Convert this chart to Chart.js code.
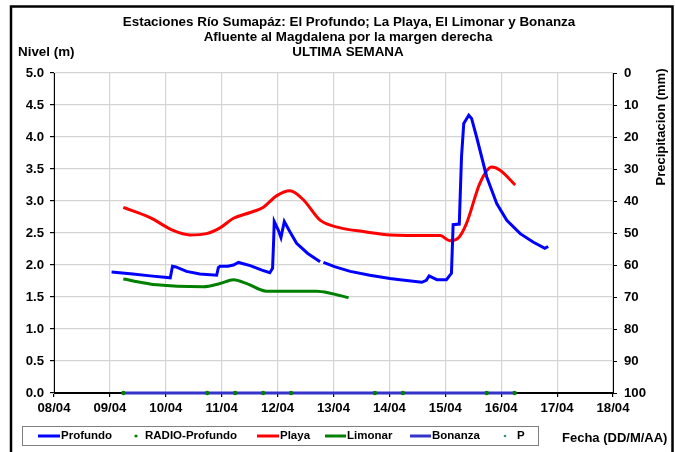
<!DOCTYPE html>
<html lang="es">
<head>
    <meta charset="UTF-8">
    <title>Estaciones Río Sumapáz</title>
    <script src="https://cdn.jsdelivr.net/npm/chart.js"></script>
    <style>
        body { margin: 0; background: #fff; }
        #wrap { position: relative; width: 675px; height: 452px; }
    </style>
</head>
<body>
    <div id="wrap">
        <canvas id="chart" width="675" height="452"></canvas>
    </div>

    <script>
        // dias desde 08/04
        const dateLabels = ['08/04', '09/04', '10/04', '11/04', '12/04', '13/04', '14/04', '15/04', '16/04', '17/04', '18/04'];

        const profundoDays = [1.03, 1.41, 1.72, 2.08, 2.12, 2.18, 2.37, 2.61, 2.91, 2.94, 2.97, 3.11, 3.21, 3.30, 3.51, 3.72, 3.86, 3.91, 3.93, 3.94, 4.01, 4.06, 4.12, 4.22, 4.34, 4.54, 4.76, 4.79, 4.82, 5.03, 5.30, 5.65, 6.01, 6.19, 6.58, 6.66, 6.71, 6.85, 7.02, 7.11, 7.14, 7.25, 7.29, 7.33, 7.42, 7.47, 7.56, 7.74, 7.92, 8.10, 8.34, 8.57, 8.78, 8.84];
        const profundoLevel = [1.89, 1.86, 1.83, 1.80, 1.98, 1.97, 1.90, 1.86, 1.84, 1.96, 1.98, 1.98, 2.00, 2.04, 1.99, 1.92, 1.88, 1.95, 2.40, 2.68, 2.55, 2.43, 2.68, 2.52, 2.34, 2.18, 2.05, null, 2.04, 1.97, 1.90, 1.84, 1.79, 1.77, 1.73, 1.76, 1.83, 1.77, 1.77, 1.87, 2.63, 2.64, 3.69, 4.21, 4.34, 4.29, 4.00, 3.38, 2.96, 2.70, 2.49, 2.36, 2.26, 2.29];

        const playaDays = [1.24, 1.72, 2.13, 2.43, 2.73, 2.97, 3.21, 3.51, 3.74, 3.98, 4.22, 4.46, 4.76, 5.12, 5.56, 6.01, 6.73, 6.91, 7.08, 7.23, 7.38, 7.62, 7.83, 7.98, 8.25];
        const playaLevel = [2.90, 2.74, 2.54, 2.47, 2.49, 2.58, 2.73, 2.82, 2.90, 3.08, 3.16, 3.02, 2.70, 2.58, 2.52, 2.47, 2.46, 2.46, 2.38, 2.42, 2.65, 3.28, 3.53, 3.48, 3.25];

        const limonarDays = [1.24, 1.84, 2.67, 2.97, 3.21, 3.45, 3.80, 4.22, 4.70, 4.94, 5.27];
        const limonarLevel = [1.78, 1.69, 1.66, 1.71, 1.77, 1.71, 1.59, 1.59, 1.59, 1.56, 1.49];

        const bonanzaDays = [1.24, 8.24];
        const bonanzaLevel = [0, 0];

        const radioDays = [1.24, 2.74, 3.24, 3.74, 4.24, 5.74, 6.24, 7.74, 8.24];
        const radioLevel = [0, 0, 0, 0, 0, 0, 0, 0, 0];

        const FONT = 'Liberation Sans, Arial, sans-serif';
        const NOCLIP = { left: 6, right: 6, top: 6, bottom: 6 };

        function pts(xs, ys) {
            return xs.map((x, i) => ({ x: x, y: ys[i] }));
        }

        // textos, leyenda y marco
        const decor = {
            id: 'decor',
            afterDraw(chart) {
                const ctx = chart.ctx;
                ctx.save();
                ctx.fillStyle = '#000';
                ctx.font = 'bold 13.4px ' + FONT;
                ctx.textBaseline = 'middle';
                ctx.textAlign = 'center';
                ctx.fillText('Estaciones Río Sumapáz: El Profundo; La Playa, El Limonar y Bonanza', 349, 22);
                ctx.fillText('Afluente al Magdalena por la margen derecha', 348, 37);
                ctx.fillText('ULTIMA SEMANA', 348, 52);

                ctx.textAlign = 'left';
                ctx.fillText('Nivel (m)', 18, 52);
                ctx.font = 'bold 13px ' + FONT;
                ctx.fillText('Fecha (DD/M/AA)', 562, 438);

                ctx.save();
                ctx.translate(661, 127);
                ctx.rotate(-Math.PI / 2);
                ctx.textAlign = 'center';
                ctx.fillText('Precipitacion (mm)', 0, 0);
                ctx.restore();

                // leyenda
                ctx.strokeStyle = '#808080';
                ctx.lineWidth = 1;
                ctx.strokeRect(22.5, 426.5, 516, 19);
                const ly = 436;
                ctx.font = 'bold 11.5px ' + FONT;
                const lines = [
                    ['#0000ff', 38, 60, 'Profundo'],
                    ['#ff0000', 257, 279, 'Playa'],
                    ['#008000', 325, 346, 'Limonar'],
                    ['#3333cc', 410, 431, 'Bonanza']
                ];
                lines.forEach(l => {
                    ctx.strokeStyle = l[0];
                    ctx.lineWidth = 3;
                    ctx.beginPath();
                    ctx.moveTo(l[1], ly);
                    ctx.lineTo(l[2], ly);
                    ctx.stroke();
                    ctx.fillText(l[3], l[2] + 1, ly);
                });
                ctx.fillStyle = '#008000';
                ctx.beginPath(); ctx.arc(136, ly, 1.6, 0, Math.PI * 2); ctx.fill();
                ctx.fillStyle = '#339966';
                ctx.beginPath(); ctx.arc(505, ly, 1.3, 0, Math.PI * 2); ctx.fill();
                ctx.fillStyle = '#000';
                ctx.fillText('RADIO-Profundo', 145, ly);
                ctx.fillText('P', 517, ly);

                // marco
                ctx.strokeStyle = '#000';
                ctx.lineWidth = 2.5;
                ctx.strokeRect(11, 6.5, 661.5, 460);
                ctx.restore();
            }
        };

        const tickFont = { family: FONT, size: 13.2, weight: 'bold' };

        const ctx = document.getElementById('chart').getContext('2d');
        const chart = new Chart(ctx, {
            type: 'line',
            data: {
                datasets: [
                    {
                        label: 'RADIO-Profundo',
                        data: pts(radioDays, radioLevel),
                        showLine: false,
                        pointRadius: 2.2,
                        pointBackgroundColor: '#008000',
                        pointBorderWidth: 0,
                        clip: NOCLIP,
                        yAxisID: 'y'
                    },
                    {
                        label: 'Bonanza',
                        data: pts(bonanzaDays, bonanzaLevel),
                        borderColor: '#3333cc',
                        borderWidth: 3,
                        pointRadius: 0,
                        clip: NOCLIP,
                        yAxisID: 'y'
                    },
                    {
                        label: 'Profundo',
                        data: pts(profundoDays, profundoLevel),
                        borderColor: '#0000ff',
                        borderWidth: 3,
                        pointRadius: 0,
                        tension: 0,
                        spanGaps: false,
                        yAxisID: 'y'
                    },
                    {
                        label: 'Limonar',
                        data: pts(limonarDays, limonarLevel),
                        borderColor: '#008000',
                        borderWidth: 3,
                        pointRadius: 0,
                        tension: 0.4,
                        cubicInterpolationMode: 'monotone',
                        yAxisID: 'y'
                    },
                    {
                        label: 'Playa',
                        data: pts(playaDays, playaLevel),
                        borderColor: '#ff0000',
                        borderWidth: 3,
                        pointRadius: 0,
                        tension: 0.4,
                        cubicInterpolationMode: 'monotone',
                        yAxisID: 'y'
                    }
                ]
            },
            options: {
                responsive: false,
                animation: false,
                layout: { padding: { top: 73, left: 0, right: 0, bottom: 0 } },
                plugins: {
                    legend: { display: false },
                    title: { display: false },
                    tooltip: { enabled: false }
                },
                scales: {
                    x: {
                        type: 'linear',
                        min: 0,
                        max: 10,
                        afterFit: s => { s.height = 59; },
                        afterBuildTicks: s => { s.ticks = dateLabels.map((_, i) => ({ value: i })); },
                        ticks: {
                            stepSize: 1,
                            padding: 3,
                            color: '#000',
                            font: tickFont,
                            maxRotation: 0,
                            callback: v => dateLabels[v]
                        },
                        grid: { color: '#d4d4d4', lineWidth: 1.2, tickLength: 4, tickColor: '#000' },
                        border: { color: '#000', width: 1 }
                    },
                    y: {
                        position: 'left',
                        min: 0,
                        max: 5,
                        afterFit: s => { s.width = 54; },
                        ticks: {
                            stepSize: 0.5,
                            padding: 6,
                            color: '#000',
                            font: tickFont,
                            callback: v => v.toFixed(1)
                        },
                        grid: {
                            color: ctx => ctx.tick && ctx.tick.value === 0 ? '#000' : '#d4d4d4',
                            lineWidth: 1.2,
                            tickLength: 4,
                            tickColor: '#000'
                        },
                        border: { color: '#000', width: 1 }
                    },
                    y2: {
                        position: 'right',
                        min: 0,
                        max: 100,
                        reverse: true,
                        afterFit: s => { s.width = 62; },
                        ticks: {
                            stepSize: 10,
                            padding: 7,
                            color: '#000',
                            font: tickFont
                        },
                        grid: { drawOnChartArea: false, tickLength: 4, tickColor: '#000' },
                        border: { color: '#000', width: 1 }
                    }
                }
            },
            plugins: [decor]
        });
    </script>
</body>
</html>
